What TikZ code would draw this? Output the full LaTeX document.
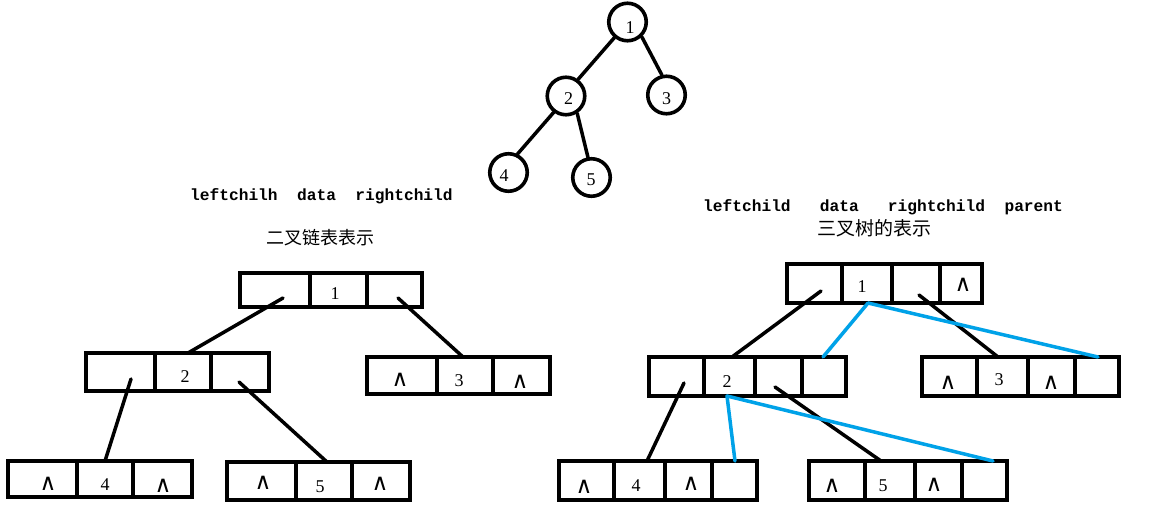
\documentclass[tikz,border=0pt]{standalone}
\usepackage{fontspec}
\setmonofont{Liberation Mono}
\newfontfamily\cjk{Noto Sans CJK SC}
\newfontfamily\digf{Liberation Serif}
\newfontfamily\symf{DejaVu Sans}
\definecolor{pblue}{RGB}{0,162,232}
\newcommand\mkcell[5]{\node[cell, minimum width={(#3)-(#2)}, minimum height={(#5)-(#4)}] (#1) at ({((#2)+(#3))/2},{((#4)+(#5))/2}) {};}
\newcommand\mklab[4]{\node[lab] (#1) at (#2,#3) {#4};}
\newcommand\wdg{{\symf\fontsize{23}{25}\selectfont ∧}}
\begin{document}
\begin{tikzpicture}[x=1pt,y=-1pt,
  cell/.style={draw, line width=3.2pt, inner sep=0pt, outer sep=0pt},
  circ/.style={draw, circle, line width=3.6pt, minimum size=37.5pt, inner sep=0pt},
  lab/.style={inner sep=0pt, font=\fontsize{18}{20}\selectfont\digf},
  link/.style={line width=3.5pt, line cap=round},
  plink/.style={line width=3.5pt, draw=pblue, line cap=round},
  head/.style={inner sep=0pt, font=\fontsize{16.2}{18}\selectfont\ttfamily\bfseries},
  cnl/.style={inner sep=0pt, font=\fontsize{18}{20}\selectfont\cjk},
  cnr/.style={inner sep=0pt, font=\fontsize{19}{21}\selectfont\cjk}]
\useasboundingbox[fill=white] (0,0) rectangle (1156,522);

% ---------- top tree ----------
\node[circ] (n1) at (627.5,22) {};
\node[circ] (n2) at (566,96) {};
\node[circ] (n3) at (666.5,95) {};
\node[circ] (n4) at (508.5,172.5) {};
\node[circ] (n5) at (591.5,177.5) {};
\mklab{t1}{630}{27.5}{1}
\mklab{t2}{568.5}{99}{2}
\mklab{t3}{666.5}{99}{3}
\mklab{t4}{504}{176}{4}
\mklab{t5}{591}{180}{5}
\draw[link] (n1.-130) -- (n2.54);
\draw[link] (n1.-46) -- (n3.103);
\draw[link] (n2.-127) -- (n4.64);
\draw[link] (n2.-57) -- (n5.100);

% ---------- headings ----------
\node[head, anchor=base west] (h1) at (190,200) {leftchilh~~data~~rightchild};
\node[cnl] (h2) at (320,238) {二叉链表表示};
\node[head, anchor=base west] (h3) at (703,211) {leftchild~~~data~~~rightchild~~parent};
\node[cnr] (h4) at (874,228.5) {三叉树的表示};

% ---------- binary linked list ----------
\mkcell{b1l}{240}{310}{273}{307}
\mkcell{b1m}{310}{367}{273}{307}
\mkcell{b1r}{367}{422}{273}{307}
\mkcell{b2l}{86}{155}{353}{391}
\mkcell{b2m}{155}{211}{353}{391}
\mkcell{b2r}{211}{269}{353}{391}
\mkcell{b3l}{367}{437}{357}{394}
\mkcell{b3m}{437}{493}{357}{394}
\mkcell{b3r}{493}{550}{357}{394}
\mkcell{b4l}{8}{77}{461}{497}
\mkcell{b4m}{77}{133}{461}{497}
\mkcell{b4r}{133}{192}{461}{497}
\mkcell{b5l}{227}{296}{462}{500}
\mkcell{b5m}{296}{352}{462}{500}
\mkcell{b5r}{352}{410}{462}{500}
\mklab{lb1}{335}{294}{1}
\mklab{lb2}{185}{377}{2}
\mklab{lb3a}{400}{380}{\wdg}
\mklab{lb3}{459}{381}{3}
\mklab{lb3b}{520}{382}{\wdg}
\mklab{lb4a}{48}{484}{\wdg}
\mklab{lb4}{105}{485}{4}
\mklab{lb4b}{163}{486}{\wdg}
\mklab{lb5a}{263}{483}{\wdg}
\mklab{lb5}{320}{487}{5}
\mklab{lb5b}{380}{484}{\wdg}
\draw[link] ([shift={(8,8)}]b1l.center) -- ([xshift=5]b2m.north);
\draw[link] ([shift={(3.5,8)}]b1r.center) -- ([xshift=-2]b3m.north);
\draw[link] ([shift={(10.5,7)}]b2l.center) -- (b4m.north);
\draw[link] ([shift={(-1,10)}]b2r.center) -- ([xshift=3]b5m.north);

% ---------- ternary tree ----------
\mkcell{r1a}{787}{842}{264}{303}
\mkcell{r1b}{842}{892}{264}{303}
\mkcell{r1c}{892}{940}{264}{303}
\mkcell{r1d}{940}{982}{264}{303}
\mkcell{r2a}{649}{704}{357}{396}
\mkcell{r2b}{704}{755}{357}{396}
\mkcell{r2c}{755}{802}{357}{396}
\mkcell{r2d}{802}{846}{357}{396}
\mkcell{r3a}{922}{977}{357}{396}
\mkcell{r3b}{977}{1028}{357}{396}
\mkcell{r3c}{1028}{1075}{357}{396}
\mkcell{r3d}{1075}{1119}{357}{396}
\mkcell{r4a}{559}{614}{461}{500}
\mkcell{r4b}{614}{665}{461}{500}
\mkcell{r4c}{665}{712}{461}{500}
\mkcell{r4d}{712}{757}{461}{500}
\mkcell{r5a}{809}{865}{461}{500}
\mkcell{r5b}{865}{915}{461}{500}
\mkcell{r5c}{915}{962}{461}{500}
\mkcell{r5d}{962}{1007}{461}{500}
\mklab{lr1}{862}{287}{1}
\mklab{lr1d}{963}{285}{\wdg}
\mklab{lr2}{727}{382}{2}
\mklab{lr3a}{948}{383}{\wdg}
\mklab{lr3}{999}{380}{3}
\mklab{lr3c}{1051}{383}{\wdg}
\mklab{lr4a}{584}{487}{\wdg}
\mklab{lr4}{636}{486}{4}
\mklab{lr4c}{691}{484}{\wdg}
\mklab{lr5a}{832}{486}{\wdg}
\mklab{lr5}{883}{486}{5}
\mklab{lr5c}{934}{485}{\wdg}
\draw[link] ([shift={(6.5,7.5)}]r1a.center) -- ([xshift=2.5]r2b.north);
\draw[link] ([shift={(3,11.5)}]r1c.center) -- ([xshift=-4.5]r3b.north);
\draw[link] ([shift={(7.5,6.5)}]r2a.center) -- ([xshift=7.5]r4b.north);
\draw[link] ([shift={(-3.5,10.5)}]r2c.center) -- ([xshift=-9]r5b.north);
\draw[plink] ([xshift=1]r1b.south) -- ([xshift=-1]r2d.north);
\draw[plink] ([xshift=1]r1b.south) -- ([xshift=1]r3d.north);
\draw[plink] ([xshift=-2.5]r2b.south) -- ([xshift=0.5]r4d.north);
\draw[plink] ([xshift=-2.5]r2b.south) -- ([xshift=8.5]r5d.north);
\end{tikzpicture}
\end{document}
